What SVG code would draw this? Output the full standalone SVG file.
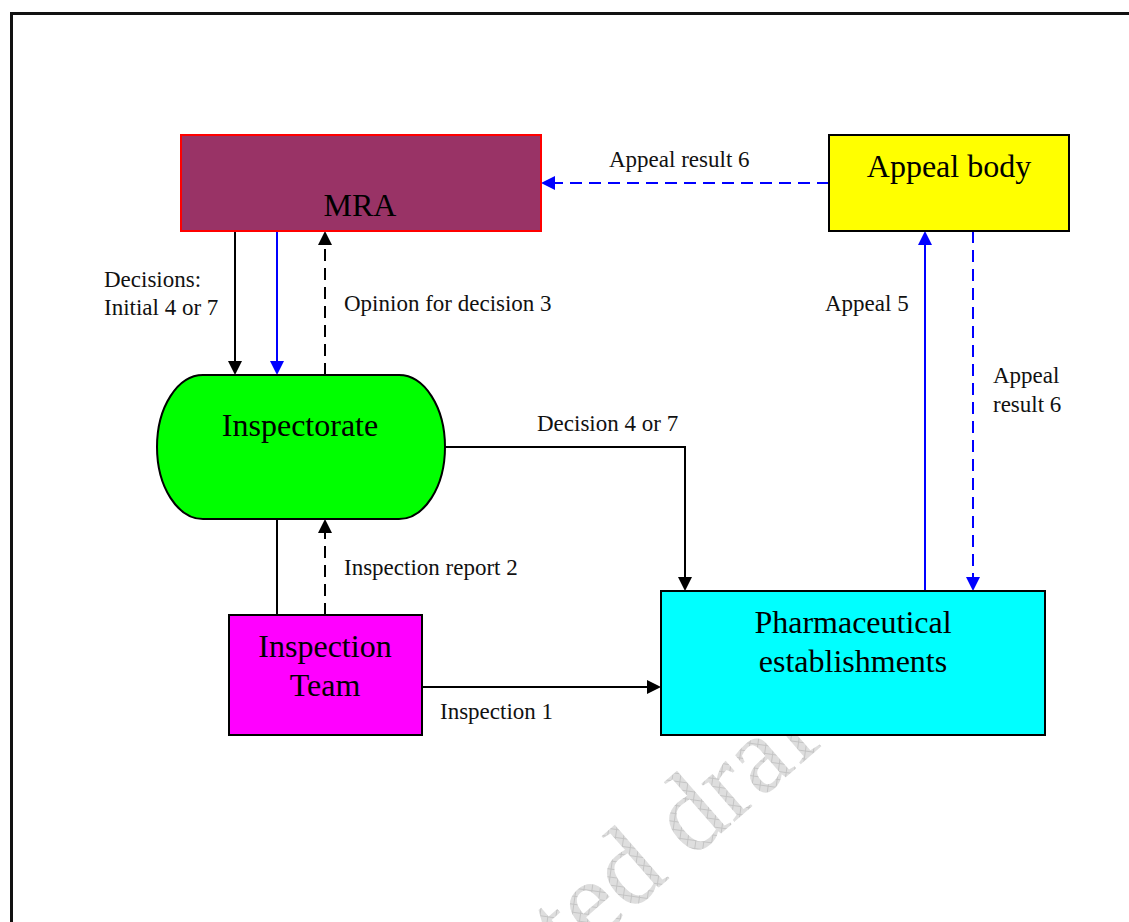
<svg xmlns="http://www.w3.org/2000/svg" width="1129" height="922" viewBox="0 0 1129 922">
  <style>
    .node { stroke: #000; stroke-width: 2; }
    .lbl { font-family: "Liberation Serif", "Times New Roman", serif; font-size: 32px; fill: #000; text-anchor: middle; }
    .cap { font-family: "Liberation Serif", "Times New Roman", serif; font-size: 23px; fill: #111; }
    .k { fill: none; stroke: #000; stroke-width: 2; }
    .b { fill: none; stroke: #0000ff; stroke-width: 2; }
    .dash { stroke-dasharray: 12 7; }
    .mark { font-family: "Liberation Serif", "Times New Roman", serif; font-size: 110px; fill: url(#hatch); }
  </style>
  <defs>
    <pattern id="hatch" width="8" height="8" patternUnits="userSpaceOnUse" patternTransform="rotate(-41)">
      <rect width="8" height="8" fill="#dedede"/>
      <path d="M0,0.5 H8 M0.5,0 V8" stroke="#c4c4c4" stroke-width="1"/>
    </pattern>
    <marker id="ak" viewBox="0 0 14 14" refX="11" refY="7" markerWidth="14" markerHeight="14" markerUnits="userSpaceOnUse" orient="auto">
      <path d="M0,0 L14,7 L0,14 z" fill="#000"/>
    </marker>
    <marker id="ab" viewBox="0 0 14 14" refX="11" refY="7" markerWidth="14" markerHeight="14" markerUnits="userSpaceOnUse" orient="auto">
      <path d="M0,0 L14,7 L0,14 z" fill="#0000ff"/>
    </marker>
  </defs>

  <rect width="1129" height="922" fill="#fff"/>

  <!-- page frame -->
  <path d="M11.5,922 V13.5 H1129" fill="none" stroke="#111" stroke-width="3"/>

  <!-- background watermark -->
  <text class="mark" transform="translate(334,1170) rotate(-41)">Restricted draft</text>

  <!-- connectors -->
  <g id="connectors">
    <path class="k" d="M235,231 V372" marker-end="url(#ak)"/>
    <path class="b" d="M277,231 V372" marker-end="url(#ab)"/>
    <path class="k dash" d="M325,375 V234" marker-end="url(#ak)"/>
    <path class="b dash" d="M829,183 H544" marker-end="url(#ab)"/>
    <path class="k" d="M445,447 H685 V588" marker-end="url(#ak)"/>
    <path class="k" d="M277,519 V615"/>
    <path class="k dash" d="M325,615 V522" marker-end="url(#ak)"/>
    <path class="k" d="M422,687 H658" marker-end="url(#ak)"/>
    <path class="b" d="M925,591 V234" marker-end="url(#ab)"/>
    <path class="b dash" d="M973,231 V588" marker-end="url(#ab)"/>

    <text class="cap" x="104" y="287">Decisions:</text>
    <text class="cap" x="104" y="315">Initial 4 or 7</text>
    <text class="cap" x="344" y="311">Opinion for decision 3</text>
    <text class="cap" x="609" y="167">Appeal result 6</text>
    <text class="cap" x="537" y="431">Decision 4 or 7</text>
    <text class="cap" x="344" y="575">Inspection report 2</text>
    <text class="cap" x="440" y="719">Inspection 1</text>
    <text class="cap" x="825" y="311">Appeal 5</text>
    <text class="cap" x="993" y="383">Appeal</text>
    <text class="cap" x="993" y="412">result 6</text>
  </g>

  <g id="mra">
    <rect x="181" y="135" width="360" height="96" fill="#993366" stroke="#ff0000" stroke-width="2"/>
    <text class="lbl" x="360" y="216">MRA</text>
  </g>

  <g id="appeal-body">
    <rect class="node" x="829" y="135" width="240" height="96" fill="#ffff00"/>
    <text class="lbl" x="949" y="177">Appeal body</text>
  </g>

  <g id="inspectorate">
    <rect class="node" x="157" y="375" width="288" height="144" rx="46" ry="72" fill="#00ff00"/>
    <text class="lbl" x="300" y="436">Inspectorate</text>
  </g>

  <g id="inspection-team">
    <rect class="node" x="229" y="615" width="193" height="120" fill="#ff00ff"/>
    <text class="lbl" x="325" y="657">Inspection</text>
    <text class="lbl" x="325" y="696">Team</text>
  </g>

  <g id="pharmaceutical-establishments">
    <rect class="node" x="661" y="591" width="384" height="144" fill="#00ffff"/>
    <text class="lbl" x="853" y="633">Pharmaceutical</text>
    <text class="lbl" x="853" y="672">establishments</text>
  </g>
</svg>
